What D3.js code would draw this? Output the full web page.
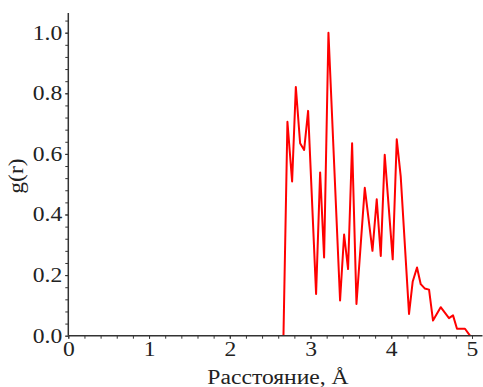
<!DOCTYPE html>
<html><head><meta charset="utf-8">
<script src="https://cdn.jsdelivr.net/npm/d3@7/dist/d3.min.js"></script>
<style>
html,body{margin:0;padding:0;background:#fff;}
svg{display:block;}
text{font-family:"Liberation Serif","Times New Roman",serif;fill:#222;}
</style></head>
<body>
<svg id="chart" width="483" height="387"></svg>
<script>
const rValues = [2.665, 2.714, 2.772, 2.818, 2.871, 2.921, 2.970, 3.069, 3.119, 3.168, 3.222, 3.366, 3.416, 3.465, 3.515, 3.569, 3.672, 3.767, 3.820, 3.870, 3.919, 4.018, 4.068, 4.117, 4.220, 4.265, 4.319, 4.365, 4.414, 4.468, 4.517, 4.612, 4.715, 4.765, 4.814, 4.913, 4.975];
const gValues = [0, 0.706, 0.509, 0.821, 0.635, 0.613, 0.742, 0.138, 0.539, 0.258, 1.0, 0.116, 0.334, 0.220, 0.635, 0.105, 0.488, 0.28, 0.45, 0.263, 0.597, 0.252, 0.648, 0.526, 0.072, 0.178, 0.225, 0.170, 0.156, 0.152, 0.050, 0.094, 0.058, 0.067, 0.023, 0.023, 0.0];
const xTickLabels = [0, 1, 2, 3, 4, 5];
const yTickLabels = [0.0, 0.2, 0.4, 0.6, 0.8, 1.0];
const xLabel = "Расстояние, Å";
const yLabel = "g(r)";

const svg = d3.select("#chart");
const x = d3.scaleLinear().domain([0, 5.13]).range([68.3, 482.5]);
const y = d3.scaleLinear().domain([0, 1.065]).range([335.7, 13]);

const axisColor = "#333";
const stretch = 1.18;
function widen(sel) {
  sel.each(function() {
    const w = this.getComputedTextLength();
    d3.select(this).attr("textLength", w * stretch).attr("lengthAdjust", "spacingAndGlyphs");
  });
}

// data line (drawn first so axes sit on top)
const pts = rValues.map((r, i) => [r, gValues[i]]);
svg.append("path").datum(pts)
  .attr("fill", "none").attr("stroke", "#ff0000").attr("stroke-width", 2)
  .attr("stroke-linejoin", "round")
  .attr("d", d3.line().x(d => x(d[0])).y(d => y(d[1])));

// minor ticks
const xMinor = d3.range(0, 5.13, 0.2);
const yMinor = d3.range(0, 1.065, 0.04);

const gx = svg.append("g").attr("transform", `translate(0,${y(0)})`)
  .call(d3.axisBottom(x).tickValues(xMinor).tickFormat("").tickSize(3).tickSizeOuter(0));
gx.select(".domain").remove();
gx.selectAll("line").attr("stroke", axisColor);
const gx2 = svg.append("g").attr("transform", `translate(0,${y(0)})`)
  .call(d3.axisBottom(x).tickValues(xTickLabels).tickFormat(d3.format("d")).tickSize(3).tickPadding(3).tickSizeOuter(0));
gx2.select(".domain").remove();
gx2.selectAll("line").attr("stroke", axisColor);
gx2.selectAll("text").attr("font-size", 20).attr("font-family", "Liberation Serif").attr("fill", "#222").call(widen);

const gy = svg.append("g").attr("transform", `translate(${x(0)},0)`)
  .call(d3.axisLeft(y).tickValues(yMinor).tickFormat("").tickSize(3).tickSizeOuter(0));
gy.select(".domain").remove();
gy.selectAll("line").attr("stroke", axisColor);
const gy2 = svg.append("g").attr("transform", `translate(${x(0)},0)`)
  .call(d3.axisLeft(y).tickValues(yTickLabels).tickFormat(d3.format(".1f")).tickSize(3).tickPadding(3).tickSizeOuter(0));
gy2.select(".domain").remove();
gy2.selectAll("line").attr("stroke", axisColor);
gy2.selectAll("text").attr("font-size", 20).attr("font-family", "Liberation Serif").attr("fill", "#222").call(widen);

// axis lines
svg.append("line").attr("x1", x(0)).attr("x2", x(5.13)).attr("y1", y(0)).attr("y2", y(0))
  .attr("stroke", axisColor).attr("stroke-width", 1.5);
svg.append("line").attr("x1", x(0)).attr("x2", x(0)).attr("y1", y(0)).attr("y2", y(1.065))
  .attr("stroke", axisColor).attr("stroke-width", 1.5);

// labels
svg.append("text").attr("x", 278).attr("y", 384).attr("text-anchor", "middle")
  .attr("font-size", 20).text(xLabel).call(widen);
svg.append("text").attr("transform", "translate(23,176) rotate(-90)").attr("text-anchor", "middle")
  .attr("font-size", 20).text(yLabel).call(widen);
</script>
</body></html>
